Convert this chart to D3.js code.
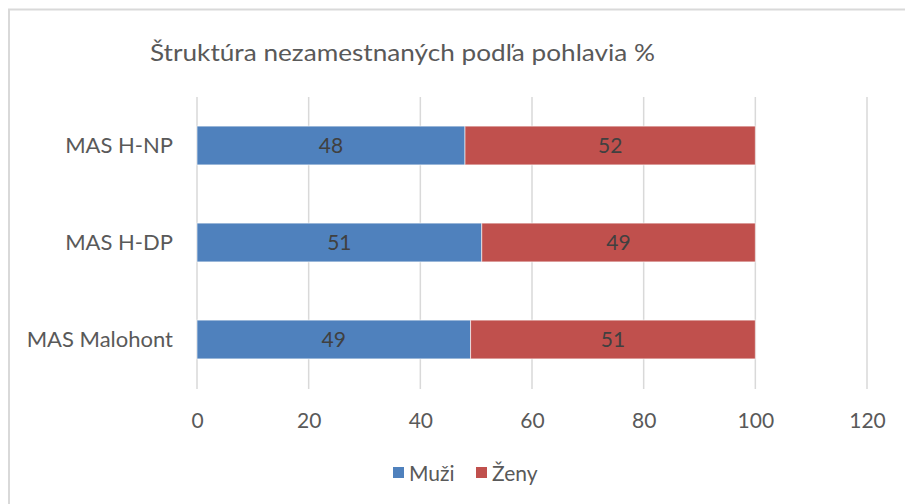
<!DOCTYPE html>
<html><head><meta charset="utf-8">
<script src="https://cdn.jsdelivr.net/npm/d3@7"></script>
<style>body{margin:0;background:#fff;} text{font-family:Lato,"Open Sans",sans-serif;}</style>
</head><body>
<svg id="c" width="905" height="504"></svg>
<script>
const title = "Štruktúra nezamestnaných podľa pohlavia %";
const categories = ["MAS H-NP", "MAS H-DP", "MAS Malohont"];
const seriesNames = ["Muži", "Ženy"];
const muzi = [48, 51, 49];
const zeny = [52, 49, 51];
const xTicks = [0, 20, 40, 60, 80, 100, 120];
const colors = ["#4F81BD", "#C0504D"];

const svg = d3.select("#c");
const textColor = "#595959";
// chart border
svg.append("rect").attr("x", 9).attr("y", 9.5).attr("width", 1000).attr("height", 1000)
  .attr("fill", "none").attr("stroke", "#d9d9d9").attr("stroke-width", 2);

svg.append("text").attr("x", 150).attr("y", 61).attr("font-size", 24).attr("fill", textColor)
  .attr("textLength", 505).attr("lengthAdjust", "spacingAndGlyphs").text(title);

const x = d3.scaleLinear().domain([0, 120]).range([197, 867]);
const y = d3.scaleBand().domain(categories).range([97, 388]).paddingInner(0.6).paddingOuter(0.3);

// gridlines
svg.append("g").selectAll("line").data(xTicks).join("line")
  .attr("x1", d => x(d)).attr("x2", d => x(d)).attr("y1", 97).attr("y2", 389)
  .attr("stroke", "#d9d9d9").attr("stroke-width", 1.5);

const data = categories.map((c, i) => ({cat: c, vals: [muzi[i], zeny[i]]}));
const stack = d3.stack().keys([0, 1]).value((d, k) => d.vals[k]);
const layers = stack(data);

layers.forEach((layer, k) => {
  const g = svg.append("g");
  g.selectAll("rect").data(layer).join("rect")
    .attr("x", d => x(d[0])).attr("width", d => x(d[1]) - x(d[0]))
    .attr("y", d => y(d.data.cat)).attr("height", y.bandwidth())
    .attr("fill", colors[k]).attr("stroke", "#ffffff").attr("stroke-opacity", 0.6).attr("stroke-width", 1);
  g.selectAll("text").data(layer).join("text")
    .attr("x", d => (x(d[0]) + x(d[1])) / 2)
    .attr("y", d => y(d.data.cat) + y.bandwidth() / 2)
    .attr("dy", "0.36em").attr("text-anchor", "middle").attr("font-size", 21).attr("fill", "#404040")
    .text(d => d[1] - d[0]);
});

// category labels
svg.append("g").selectAll("text").data(categories).join("text")
  .attr("x", 173).attr("y", d => y(d) + y.bandwidth() / 2).attr("dy", "0.36em")
  .attr("text-anchor", "end").attr("font-size", 22).attr("fill", textColor).text(d => d);

// x axis labels
const xAxis = d3.axisBottom(x).tickValues(xTicks).tickSize(0).tickPadding(0);
const ax = svg.append("g").attr("transform", "translate(0,420)").call(xAxis);
ax.select(".domain").remove();
ax.selectAll("text").attr("font-size", 21).attr("fill", textColor).attr("dy", "0.36em")
  .attr("font-family", "Lato,'Open Sans',sans-serif");

// legend
const leg = svg.append("g");
const legX = [393, 476];
seriesNames.forEach((n, i) => {
  leg.append("rect").attr("x", legX[i]).attr("y", 467).attr("width", 11).attr("height", 11).attr("fill", colors[i]);
  leg.append("text").attr("x", legX[i] + 16).attr("y", 473).attr("dy", "0.36em")
    .attr("font-size", 21).attr("fill", textColor).text(n);
});
</script>
</body></html>
